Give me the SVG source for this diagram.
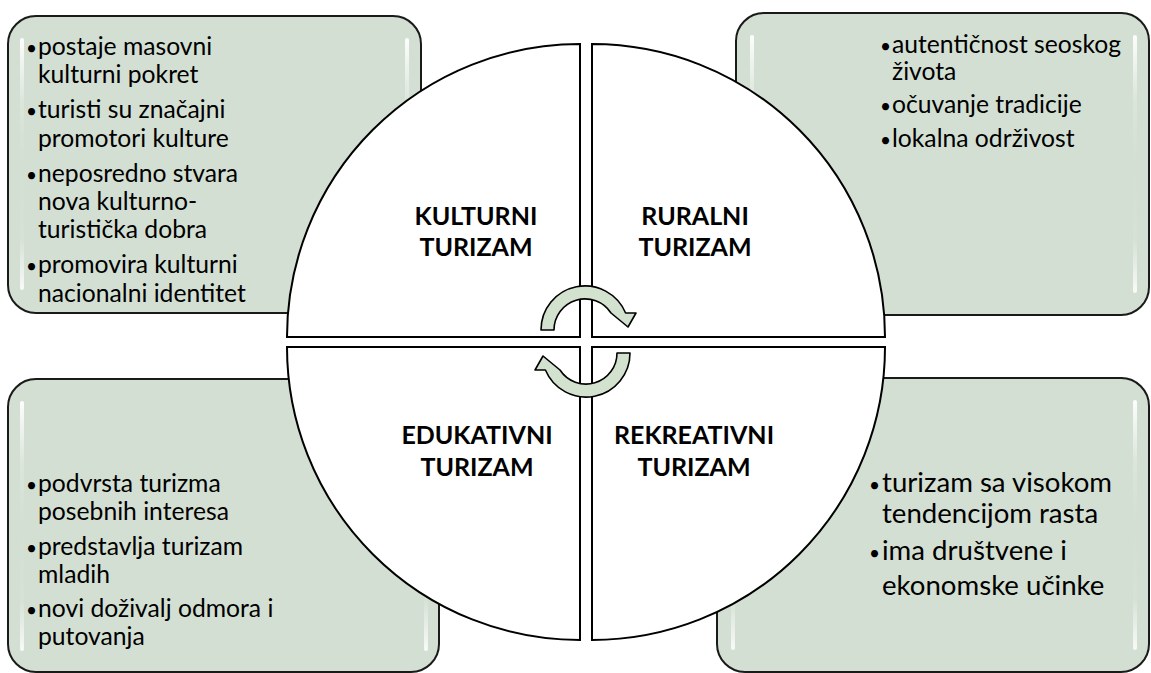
<svg xmlns="http://www.w3.org/2000/svg" width="1151" height="673" viewBox="0 0 1151 673">
<defs>
<style>
.box{fill:#d3dfd2;stroke:#1a1a1a;stroke-width:2}
.q{fill:#ffffff;stroke:#000000;stroke-width:2}
.t{font-family:Lato,"Liberation Sans",sans-serif;font-size:24.7px;fill:#000}
.t2{font-family:Lato,"Liberation Sans",sans-serif;font-size:27.6px;fill:#000}
.b{font-size:19px}
.h{font-family:Lato,"Liberation Sans",sans-serif;font-size:25px;font-weight:bold;fill:#000;text-anchor:middle}
.arr{fill:#d2e2cf;stroke:#000;stroke-width:1.6;stroke-linejoin:round}
.gl{fill:url(#gleam)}
</style>
<linearGradient id="gleam" x1="0" y1="0" x2="0" y2="1">
<stop offset="0" stop-color="#ffffff" stop-opacity="0.95"/>
<stop offset="0.25" stop-color="#ffffff" stop-opacity="0.2"/>
<stop offset="0.5" stop-color="#ffffff" stop-opacity="0"/>
<stop offset="0.8" stop-color="#ffffff" stop-opacity="0.1"/>
<stop offset="1" stop-color="#ffffff" stop-opacity="0.85"/>
</linearGradient>
</defs>

<g id="box-kulturni">
<rect class="box" x="8" y="16" width="413" height="297" rx="28"/>
<rect class="gl" x="20" y="38" width="4" height="252" rx="2"/>
<rect class="gl" x="405" y="38" width="4" height="252" rx="2"/>
<text class="t"><tspan class="b" x="26" y="55">•</tspan><tspan x="38" y="55">postaje masovni</tspan></text>
<text class="t" x="38" y="83">kulturni pokret</text>
<text class="t"><tspan class="b" x="26" y="118">•</tspan><tspan x="38" y="118">turisti su značajni</tspan></text>
<text class="t" x="38" y="147">promotori kulture</text>
<text class="t"><tspan class="b" x="26" y="182">•</tspan><tspan x="38" y="182">neposredno stvara</tspan></text>
<text class="t" x="38" y="210">nova kulturno-</text>
<text class="t" x="38" y="238">turistička dobra</text>
<text class="t"><tspan class="b" x="26" y="273">•</tspan><tspan x="38" y="273">promovira kulturni</tspan></text>
<text class="t" x="38" y="302">nacionalni identitet</text>
</g>

<g id="box-ruralni">
<rect class="box" x="736" y="13" width="413" height="302" rx="28"/>
<rect class="gl" x="750" y="35" width="4" height="258" rx="2"/>
<rect class="gl" x="1133" y="35" width="4" height="258" rx="2"/>
<text class="t"><tspan class="b" x="880" y="53">•</tspan><tspan x="892" y="53">autentičnost seoskog</tspan></text>
<text class="t" x="892" y="80">života</text>
<text class="t"><tspan class="b" x="880" y="113">•</tspan><tspan x="892" y="113">očuvanje tradicije</tspan></text>
<text class="t"><tspan class="b" x="880" y="147">•</tspan><tspan x="892" y="147">lokalna održivost</tspan></text>
</g>

<g id="box-edukativni">
<rect class="box" x="8" y="379" width="431" height="293" rx="28"/>
<rect class="gl" x="20" y="401" width="4" height="250" rx="2"/>
<rect class="gl" x="424" y="401" width="4" height="250" rx="2"/>
<text class="t"><tspan class="b" x="26" y="492">•</tspan><tspan x="38" y="492">podvrsta turizma</tspan></text>
<text class="t" x="38" y="520">posebnih interesa</text>
<text class="t"><tspan class="b" x="26" y="555">•</tspan><tspan x="38" y="555">predstavlja turizam</tspan></text>
<text class="t" x="38" y="583">mladih</text>
<text class="t"><tspan class="b" x="26" y="617">•</tspan><tspan x="38" y="617">novi doživalj odmora i</tspan></text>
<text class="t" x="38" y="645">putovanja</text>
</g>

<g id="box-rekreativni">
<rect class="box" x="717" y="378" width="432" height="294" rx="28"/>
<rect class="gl" x="731" y="400" width="4" height="250" rx="2"/>
<rect class="gl" x="1133" y="400" width="4" height="250" rx="2"/>
<text class="t2"><tspan class="b" x="869" y="492">•</tspan><tspan x="882" y="492">turizam sa visokom</tspan></text>
<text class="t2" x="882" y="523">tendencijom rasta</text>
<text class="t2"><tspan class="b" x="869" y="560">•</tspan><tspan x="882" y="560">ima društvene i</tspan></text>
<text class="t2" x="882" y="595">ekonomske učinke</text>
</g>

<g id="q-kulturni">
<path class="q" d="M580,337 L287,337 A293,293 0 0 1 580,44 Z"/>
<text class="h"><tspan x="476" y="225">KULTURNI</tspan><tspan x="476" y="256">TURIZAM</tspan></text>
</g>
<g id="q-ruralni">
<path class="q" d="M592,337 L592,44 A293,293 0 0 1 885,337 Z"/>
<text class="h"><tspan x="695" y="225">RURALNI</tspan><tspan x="695" y="256">TURIZAM</tspan></text>
</g>
<g id="q-edukativni">
<path class="q" d="M580,347 L580,640 A293,293 0 0 1 287,347 Z"/>
<text class="h"><tspan x="477" y="444">EDUKATIVNI</tspan><tspan x="477" y="476">TURIZAM</tspan></text>
</g>
<g id="q-rekreativni">
<path class="q" d="M592,347 L885,347 A293,293 0 0 1 592,640 Z"/>
<text class="h"><tspan x="694" y="444">REKREATIVNI</tspan><tspan x="694" y="476">TURIZAM</tspan></text>
</g>

<g id="connectors">
<path id="arrow-top" class="arr" d="M541,330 A44,44 0 0 1 625.6,313 L636,313 L628,327 L611,313 A31,31 0 0 0 554,330 Z"/>
<path id="arrow-bottom" class="arr" transform="rotate(180 585.5 341.5)" d="M541,330 A44,44 0 0 1 625.6,313 L636,313 L628,327 L611,313 A31,31 0 0 0 554,330 Z"/>
</g>
</svg>
